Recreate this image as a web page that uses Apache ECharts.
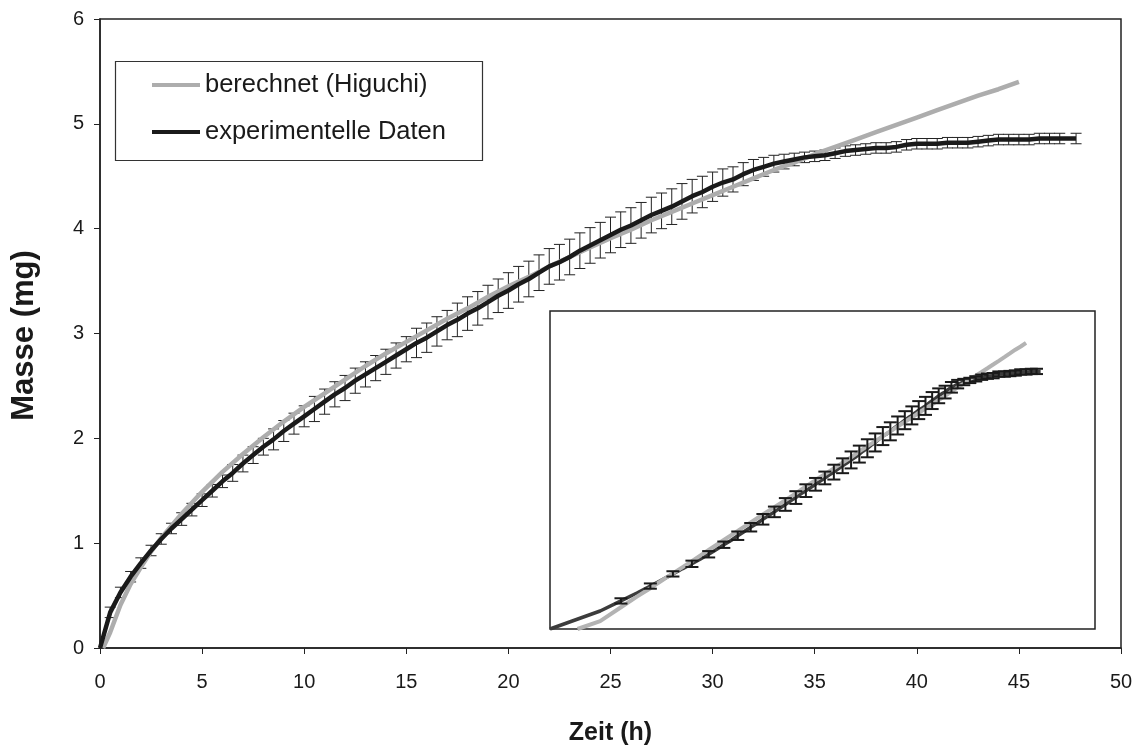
<!DOCTYPE html>
<html>
<head>
<meta charset="utf-8">
<script src="https://cdn.jsdelivr.net/npm/echarts@6/dist/echarts.min.js"></script>
<style>
html,body{margin:0;padding:0;background:#fff;}
#chart{width:1140px;height:747px;}
</style>
</head>
<body>
<div id="chart"></div>
<script>
// ---- data ----
var seriesNames = ['berechnet (Higuchi)', 'experimentelle Daten'];
var xTicks = [0, 5, 10, 15, 20, 25, 30, 35, 40, 45, 50];
var yTicks = [0, 1, 2, 3, 4, 5, 6];

// calculated (Higuchi) curve
var calcTime = [0.15, 0.5, 1, 1.5, 2, 2.5, 3, 4, 5, 6, 7, 8, 9, 10, 11, 12, 13, 14, 15, 16, 17, 18, 19, 20,
  21, 22, 23, 24, 25, 26, 27, 28, 29, 30, 31, 32, 33, 34, 35, 36, 37, 38, 39, 40, 41, 42, 43, 44, 45];
var calcMass = [0.00, 0.15, 0.41, 0.61, 0.77, 0.92, 1.05, 1.28, 1.49, 1.68, 1.85, 2.01, 2.16, 2.30, 2.43, 2.56, 2.69, 2.81, 2.92, 3.03,
  3.14, 3.24, 3.35, 3.45, 3.54, 3.64, 3.73, 3.82, 3.91, 3.99, 4.08, 4.16, 4.24, 4.32, 4.40, 4.48, 4.56, 4.63, 4.71, 4.78,
  4.85, 4.92, 4.99, 5.06, 5.13, 5.20, 5.27, 5.33, 5.40];

// experimental data
var expTime = [0, 0.5, 1, 1.5, 2, 2.5, 3, 3.5, 4, 4.5, 5, 5.5, 6, 6.5, 7, 7.5, 8, 8.5, 9, 9.5,
  10, 10.5, 11, 11.5, 12, 12.5, 13, 13.5, 14, 14.5, 15, 15.5, 16, 16.5, 17, 17.5, 18, 18.5, 19, 19.5,
  20, 20.5, 21, 21.5, 22, 22.5, 23, 23.5, 24, 24.5, 25, 25.5, 26, 26.5, 27, 27.5, 28, 28.5, 29, 29.5,
  30, 30.5, 31, 31.5, 32, 32.5, 33, 33.5, 34, 34.5, 35, 35.5, 36, 36.5, 37, 37.5, 38, 38.5, 39, 39.5,
  40, 40.5, 41, 41.5, 42, 42.5, 43, 43.5, 44, 44.5, 45, 45.5, 46, 46.5, 47, 47.8];
var expMass = [0, 0.34, 0.53, 0.68, 0.81, 0.93, 1.04, 1.14, 1.23, 1.32, 1.41, 1.50, 1.59, 1.67, 1.76, 1.84, 1.92, 1.99, 2.07, 2.14,
  2.21, 2.28, 2.35, 2.42, 2.48, 2.55, 2.61, 2.67, 2.73, 2.79, 2.85, 2.91, 2.96, 3.02, 3.08, 3.13, 3.19, 3.24, 3.30, 3.36,
  3.41, 3.47, 3.52, 3.58, 3.64, 3.68, 3.73, 3.79, 3.84, 3.89, 3.94, 3.99, 4.03, 4.08, 4.13, 4.17, 4.21, 4.26, 4.31, 4.35,
  4.40, 4.44, 4.47, 4.52, 4.56, 4.59, 4.62, 4.64, 4.66, 4.68, 4.69, 4.70, 4.72, 4.74, 4.75, 4.76, 4.77, 4.77, 4.78, 4.80,
  4.81, 4.81, 4.81, 4.82, 4.82, 4.82, 4.83, 4.84, 4.85, 4.85, 4.85, 4.85, 4.86, 4.86, 4.86, 4.86];
var expErr = [0, 0.05, 0.05, 0.05, 0.05, 0.05, 0.05, 0.05, 0.06, 0.06, 0.06, 0.06, 0.06, 0.08, 0.08, 0.08, 0.08, 0.10, 0.10, 0.10,
  0.10, 0.12, 0.12, 0.12, 0.12, 0.12, 0.12, 0.12, 0.12, 0.12, 0.12, 0.14, 0.14, 0.14, 0.14, 0.16, 0.16, 0.16, 0.16, 0.16,
  0.17, 0.17, 0.17, 0.17, 0.17, 0.17, 0.17, 0.17, 0.17, 0.17, 0.17, 0.17, 0.17, 0.17, 0.17, 0.17, 0.17, 0.17, 0.16, 0.15,
  0.14, 0.13, 0.12, 0.11, 0.10, 0.09, 0.08, 0.07, 0.06, 0.05, 0.05, 0.05, 0.05, 0.05, 0.05, 0.05, 0.05, 0.05, 0.05, 0.05,
  0.05, 0.05, 0.05, 0.05, 0.05, 0.05, 0.05, 0.05, 0.05, 0.05, 0.05, 0.05, 0.05, 0.05, 0.05, 0.05];

// ---- build ----
var FONT = '"Liberation Sans", Arial, sans-serif';
var mainCalc = calcTime.map(function (t, i) { return [t, calcMass[i]]; });
var mainExp = expTime.map(function (t, i) { return [t, expMass[i]]; });
var mainErr = expTime.map(function (t, i) { return [t, expMass[i] - expErr[i], expMass[i] + expErr[i]]; })
  .filter(function (d, i) { return expErr[i] > 0; });
// inset: same data against square root of time
var insCalc = calcTime.map(function (t, i) { return [Math.sqrt(t), calcMass[i]]; });
var insExp = expTime.map(function (t, i) { return [Math.sqrt(t), expMass[i]]; });
var insErr = [];
expTime.forEach(function (t, i) {
  if (expErr[i] > 0 && Math.abs(t - Math.round(t)) < 1e-9) {
    insErr.push([Math.sqrt(t), expMass[i] - expErr[i], expMass[i] + expErr[i]]);
  }
});

function errRender(capW, lw, color) {
  return function (params, api) {
    var x = api.value(0), lo = api.value(1), hi = api.value(2);
    var p1 = api.coord([x, hi]), p2 = api.coord([x, lo]);
    var h = capW / 2;
    var st = { stroke: color, lineWidth: lw };
    return {
      type: 'group', children: [
        { type: 'line', shape: { x1: p1[0], y1: p1[1], x2: p2[0], y2: p2[1] }, style: st },
        { type: 'line', shape: { x1: p1[0] - h, y1: p1[1], x2: p1[0] + h, y2: p1[1] }, style: st },
        { type: 'line', shape: { x1: p2[0] - h, y1: p2[1], x2: p2[0] + h, y2: p2[1] }, style: st }
      ]
    };
  };
}

var chart = echarts.init(document.getElementById('chart'), null, { renderer: 'canvas' });
var axisCol = '#222';
var option = {
  animation: false,
  backgroundColor: '#fff',
  textStyle: { fontFamily: FONT },
  grid: [
    { left: 100, top: 19, width: 1021, height: 629, show: true, borderColor: axisCol, borderWidth: 1.5,
      containLabel: false, outerBoundsMode: 'none' },
    { left: 550, top: 311, width: 545, height: 318, show: true, borderColor: axisCol, borderWidth: 1.5,
      backgroundColor: '#fff', outerBoundsMode: 'none' }
  ],
  xAxis: [
    {
      gridIndex: 0, type: 'value', min: xTicks[0], max: xTicks[xTicks.length - 1], interval: 5,
      name: 'Zeit (h)', nameLocation: 'middle', nameGap: 73,
      nameTextStyle: { fontFamily: FONT, fontWeight: 'bold', fontSize: 25, color: '#1a1a1a' },
      axisLine: { show: true, onZero: false, lineStyle: { color: axisCol, width: 1.5 } },
      axisTick: { show: true, inside: false, length: 6, lineStyle: { color: axisCol, width: 1 } },
      axisLabel: { fontFamily: FONT, fontSize: 20, color: '#1a1a1a', margin: 24 },
      splitLine: { show: false }
    },
    { gridIndex: 1, type: 'value', min: 0, max: 7.68, show: false, splitLine: { show: false } }
  ],
  yAxis: [
    {
      gridIndex: 0, type: 'value', min: yTicks[0], max: yTicks[yTicks.length - 1], interval: 1,
      name: 'Masse (mg)', nameLocation: 'middle', nameGap: 60, nameRotate: 90,
      nameTextStyle: { fontFamily: FONT, fontWeight: 'bold', fontSize: 31, color: '#1a1a1a', padding: [0, 4, 0, 0] },
      axisLine: { show: true, onZero: false, lineStyle: { color: axisCol, width: 1.5 } },
      axisTick: { show: true, inside: false, length: 6, lineStyle: { color: axisCol, width: 1 } },
      axisLabel: { fontFamily: FONT, fontSize: 20, color: '#1a1a1a', margin: 16 },
      splitLine: { show: false }
    },
    { gridIndex: 1, type: 'value', min: 0, max: 6, show: false, splitLine: { show: false } }
  ],
  legend: {
    left: 152, top: 72, orient: 'vertical', itemGap: 21, itemWidth: 48, itemHeight: 4, padding: 0,
    icon: 'rect', data: seriesNames,
    textStyle: { fontFamily: FONT, fontSize: 25.5, color: '#1a1a1a' },
    itemStyle: { borderWidth: 0 }
  },
  graphic: [
    { type: 'rect', left: 113, top: 59, shape: { width: 367, height: 99 }, style: { fill: 'none', stroke: '#333', lineWidth: 1.2 }, z: 0 }
  ],
  series: [
    {
      type: 'custom', xAxisIndex: 0, yAxisIndex: 0, data: mainErr, renderItem: errRender(11, 1, '#222'),
      encode: { x: 0, y: [1, 2] }, silent: true, z: 2
    },
    {
      name: seriesNames[0], type: 'line', xAxisIndex: 0, yAxisIndex: 0, data: mainCalc, showSymbol: false, symbol: 'none',
      lineStyle: { color: '#adadad', width: 4.5 }, itemStyle: { color: '#adadad' }, z: 3
    },
    {
      name: seriesNames[1], type: 'line', xAxisIndex: 0, yAxisIndex: 0, data: mainExp, showSymbol: false, symbol: 'none',
      lineStyle: { color: '#1a1a1a', width: 4.5 }, itemStyle: { color: '#1a1a1a' }, z: 4
    },
    {
      type: 'line', xAxisIndex: 1, yAxisIndex: 1, data: insExp, showSymbol: false, symbol: 'none',
      lineStyle: { color: '#3c3c3c', width: 3.5 }, z: 5
    },
    {
      type: 'line', xAxisIndex: 1, yAxisIndex: 1, data: insCalc, showSymbol: false, symbol: 'none',
      lineStyle: { color: '#b3b3b3', width: 4 }, z: 6
    },
    {
      type: 'custom', xAxisIndex: 1, yAxisIndex: 1, data: insErr, renderItem: errRender(13, 2, '#1a1a1a'),
      encode: { x: 0, y: [1, 2] }, silent: true, z: 7
    }
  ]
};
chart.setOption(option);
</script>
</body>
</html>
